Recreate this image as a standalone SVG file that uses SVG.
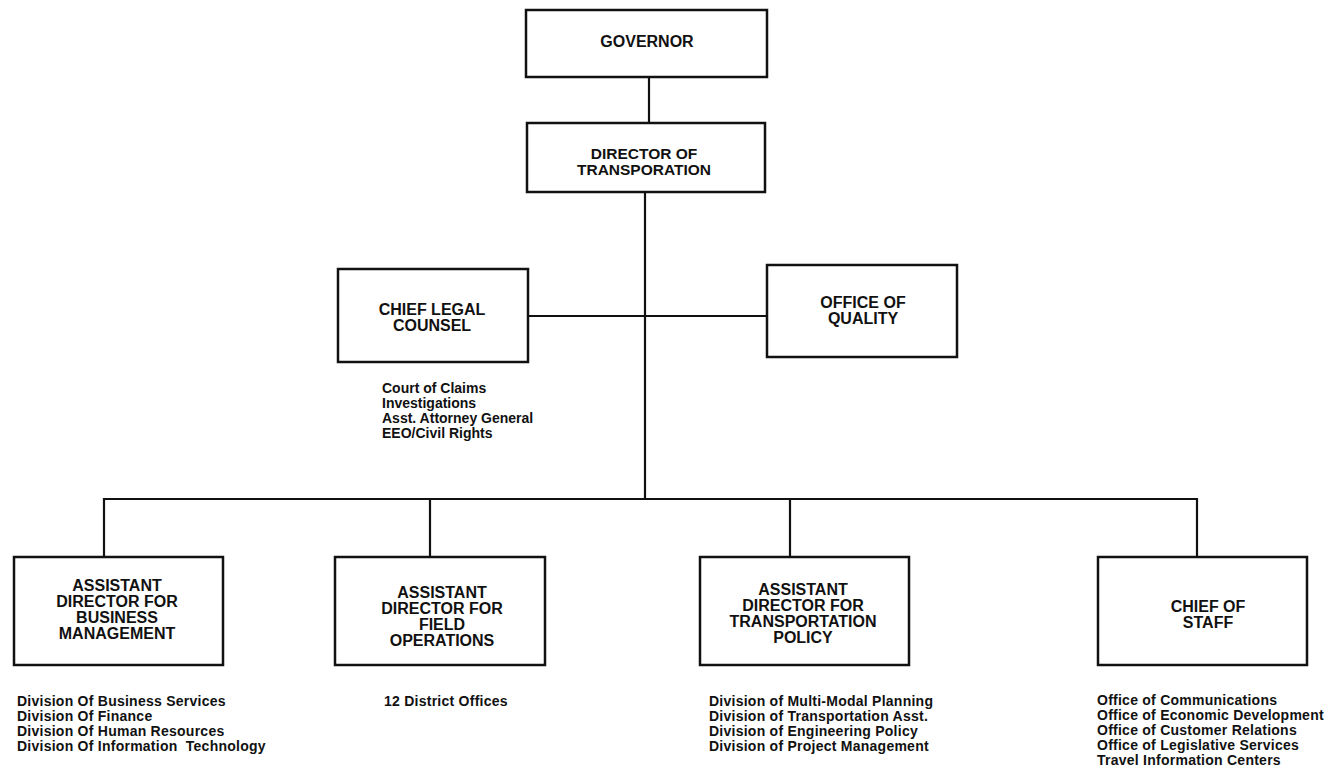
<svg xmlns="http://www.w3.org/2000/svg" width="1332" height="780" viewBox="0 0 1332 780">
<style>
.box{fill:#fff;stroke:#111;stroke-width:2.5}
.ln{fill:none;stroke:#111;stroke-width:2.2}
.t{font-family:"Liberation Sans",Arial,sans-serif;font-weight:bold;fill:#111;text-anchor:middle;font-size:16px}
.l{font-family:"Liberation Sans",Arial,sans-serif;font-weight:bold;fill:#111;font-size:14px;letter-spacing:0.25px}
</style>
<rect width="1332" height="780" fill="#fff"/>
<g id="connectors">
<path class="ln" d="M649 77V123"/>
<path class="ln" d="M645 192V499"/>
<path class="ln" d="M528 316H767"/>
<path class="ln" d="M104 557V499H1197V557"/>
<path class="ln" d="M430 499V557"/>
<path class="ln" d="M790 499V557"/>
</g>
<g id="governor">
<rect class="box" x="526" y="10" width="241" height="67"/>
<text class="t" x="647" y="47">GOVERNOR</text>
</g>
<g id="director">
<rect class="box" x="527" y="123" width="238" height="69"/>
<text class="t" style="font-size:15.5px"><tspan x="644" y="159">DIRECTOR OF</tspan><tspan x="644" y="175">TRANSPORATION</tspan></text>
</g>
<g id="legal">
<rect class="box" x="338" y="269" width="190" height="93"/>
<text class="t"><tspan x="432" y="315">CHIEF LEGAL</tspan><tspan x="432" y="331">COUNSEL</tspan></text>
<text class="l" style="letter-spacing:0"><tspan x="382" y="393">Court of Claims</tspan><tspan x="382" y="408">Investigations</tspan><tspan x="382" y="423">Asst. Attorney General</tspan><tspan x="382" y="438">EEO/Civil Rights</tspan></text>
</g>
<g id="quality">
<rect class="box" x="767" y="265" width="190" height="92"/>
<text class="t"><tspan x="863" y="308">OFFICE OF</tspan><tspan x="863" y="324">QUALITY</tspan></text>
</g>
<g id="business">
<rect class="box" x="14" y="557" width="209" height="108"/>
<text class="t"><tspan x="117" y="591">ASSISTANT</tspan><tspan x="117" y="607">DIRECTOR FOR</tspan><tspan x="117" y="623">BUSINESS</tspan><tspan x="117" y="639">MANAGEMENT</tspan></text>
<text class="l" xml:space="preserve"><tspan x="17" y="706">Division Of Business Services</tspan><tspan x="17" y="721">Division Of Finance</tspan><tspan x="17" y="736">Division Of Human Resources</tspan><tspan x="17" y="751">Division Of Information  Technology</tspan></text>
</g>
<g id="field">
<rect class="box" x="335" y="557" width="210" height="108"/>
<text class="t"><tspan x="442" y="598">ASSISTANT</tspan><tspan x="442" y="614">DIRECTOR FOR</tspan><tspan x="442" y="630">FIELD</tspan><tspan x="442" y="646">OPERATIONS</tspan></text>
<text class="l" x="384" y="706">12 District Offices</text>
</g>
<g id="policy">
<rect class="box" x="700" y="557" width="209" height="108"/>
<text class="t"><tspan x="803" y="595">ASSISTANT</tspan><tspan x="803" y="611">DIRECTOR FOR</tspan><tspan x="803" y="627">TRANSPORTATION</tspan><tspan x="803" y="643">POLICY</tspan></text>
<text class="l"><tspan x="709" y="706">Division of Multi-Modal Planning</tspan><tspan x="709" y="721">Division of Transportation Asst.</tspan><tspan x="709" y="736">Division of Engineering Policy</tspan><tspan x="709" y="751">Division of Project Management</tspan></text>
</g>
<g id="staff">
<rect class="box" x="1098" y="557" width="209" height="108"/>
<text class="t"><tspan x="1208" y="612">CHIEF OF</tspan><tspan x="1208" y="628">STAFF</tspan></text>
<text class="l"><tspan x="1097" y="705">Office of Communications</tspan><tspan x="1097" y="720">Office of Economic Development</tspan><tspan x="1097" y="735">Office of Customer Relations</tspan><tspan x="1097" y="750">Office of Legislative Services</tspan><tspan x="1097" y="765">Travel Information Centers</tspan></text>
</g>
</svg>
